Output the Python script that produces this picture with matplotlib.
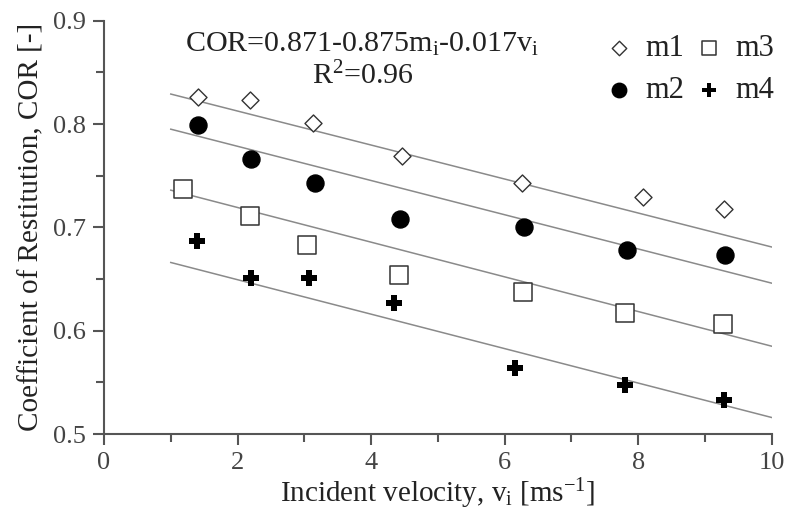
import numpy as np
import matplotlib
matplotlib.use('Agg')
import matplotlib.pyplot as plt

plt.rcParams['font.family'] = ['Liberation Serif', 'DejaVu Serif']
plt.rcParams['mathtext.fontset'] = 'custom'
plt.rcParams['mathtext.rm'] = 'Liberation Serif'
plt.rcParams['mathtext.it'] = 'Liberation Serif:italic'

# measured points
m1_v = [1.41, 2.19, 3.13, 4.46, 6.26, 8.07, 9.28]
m1_cor = [0.826, 0.823, 0.801, 0.769, 0.743, 0.729, 0.718]
m2_v = [1.41, 2.20, 3.16, 4.43, 6.29, 7.83, 9.30]
m2_cor = [0.799, 0.766, 0.743, 0.708, 0.700, 0.678, 0.673]
m3_v = [1.18, 2.19, 3.04, 4.42, 6.27, 7.81, 9.27]
m3_cor = [0.737, 0.711, 0.683, 0.654, 0.637, 0.617, 0.606]
m4_v = [1.39, 2.20, 3.07, 4.34, 6.15, 7.80, 9.28]
m4_cor = [0.687, 0.651, 0.651, 0.627, 0.564, 0.547, 0.533]

# fitted lines (end points)
fit_v = [1, 10]
fit_m1 = [0.829, 0.681]
fit_m2 = [0.795, 0.646]
fit_m3 = [0.736, 0.585]
fit_m4 = [0.666, 0.516]

fig = plt.figure(figsize=(7.85, 5.17), dpi=100)
ax = fig.add_axes([0.1325, 0.1605, 0.8505, 0.7995])

for fit in (fit_m1, fit_m2, fit_m3, fit_m4):
    ax.plot(fit_v, fit, color='#8a8a8a', lw=1.1, zorder=1)

ax.scatter(m1_v, m1_cor, marker='D', s=75, facecolors='white', edgecolors='#333333', linewidths=1.0, label='m1', zorder=3)
ax.scatter(m2_v, m2_cor, marker='o', s=150, color='black', label='m2', zorder=3)
ax.scatter(m3_v, m3_cor, marker='s', s=160, facecolors='white', edgecolors='#333333', linewidths=1.1, label='m3', zorder=3)
ax.scatter(m4_v, m4_cor, marker='P', s=140, color='black', linewidths=0, label='m4', zorder=3)

ax.set_xlim(0, 10)
ax.set_ylim(0.5, 0.9)
ax.set_xticks(np.arange(0, 11, 2))
ax.set_xticks(np.arange(1, 10, 2), minor=True)
ax.set_yticks([0.5, 0.6, 0.7, 0.8, 0.9])
ax.set_yticks([0.55, 0.65, 0.75, 0.85], minor=True)
ax.set_yticklabels(['0.5', '0.6', '0.7', '0.8', '0.9'])

for s in ('top', 'right'):
    ax.spines[s].set_visible(False)
for s in ('left', 'bottom'):
    ax.spines[s].set_color('#555555')
    ax.spines[s].set_linewidth(1.5)
ax.tick_params(which='major', direction='out', length=8, width=1.5, color='#555555',
               labelsize=19, labelcolor='#444444', pad=5)
ax.tick_params(which='minor', direction='out', length=6, width=1.5, color='#555555')

ax.set_xlabel(r'Incident velocity, v$_\mathrm{i}$ [ms$^\mathrm{-1}$]', fontsize=21, color='#222222', labelpad=2)
ax.set_ylabel('Coefficient of Restitution, COR [-]', fontsize=21, color='#222222', labelpad=6)

ax.text(3.87, 0.877, r'COR=0.871-0.875m$_\mathrm{i}$-0.017v$_\mathrm{i}$', fontsize=21.6,
        ha='center', va='center', color='#222222')
ax.text(3.88, 0.846, r'R$^\mathrm{2}$=0.96', fontsize=21.6, ha='center', va='center', color='#222222')

ax.legend(loc='upper right', bbox_to_anchor=(1.022, 0.998), ncol=2, frameon=False,
          fontsize=22, handlelength=0.8, handletextpad=0.45, columnspacing=0.43,
          labelspacing=0.45, borderaxespad=0.0, markerscale=0.85, labelcolor='#222222')

fig.savefig('out.png', dpi=100)
